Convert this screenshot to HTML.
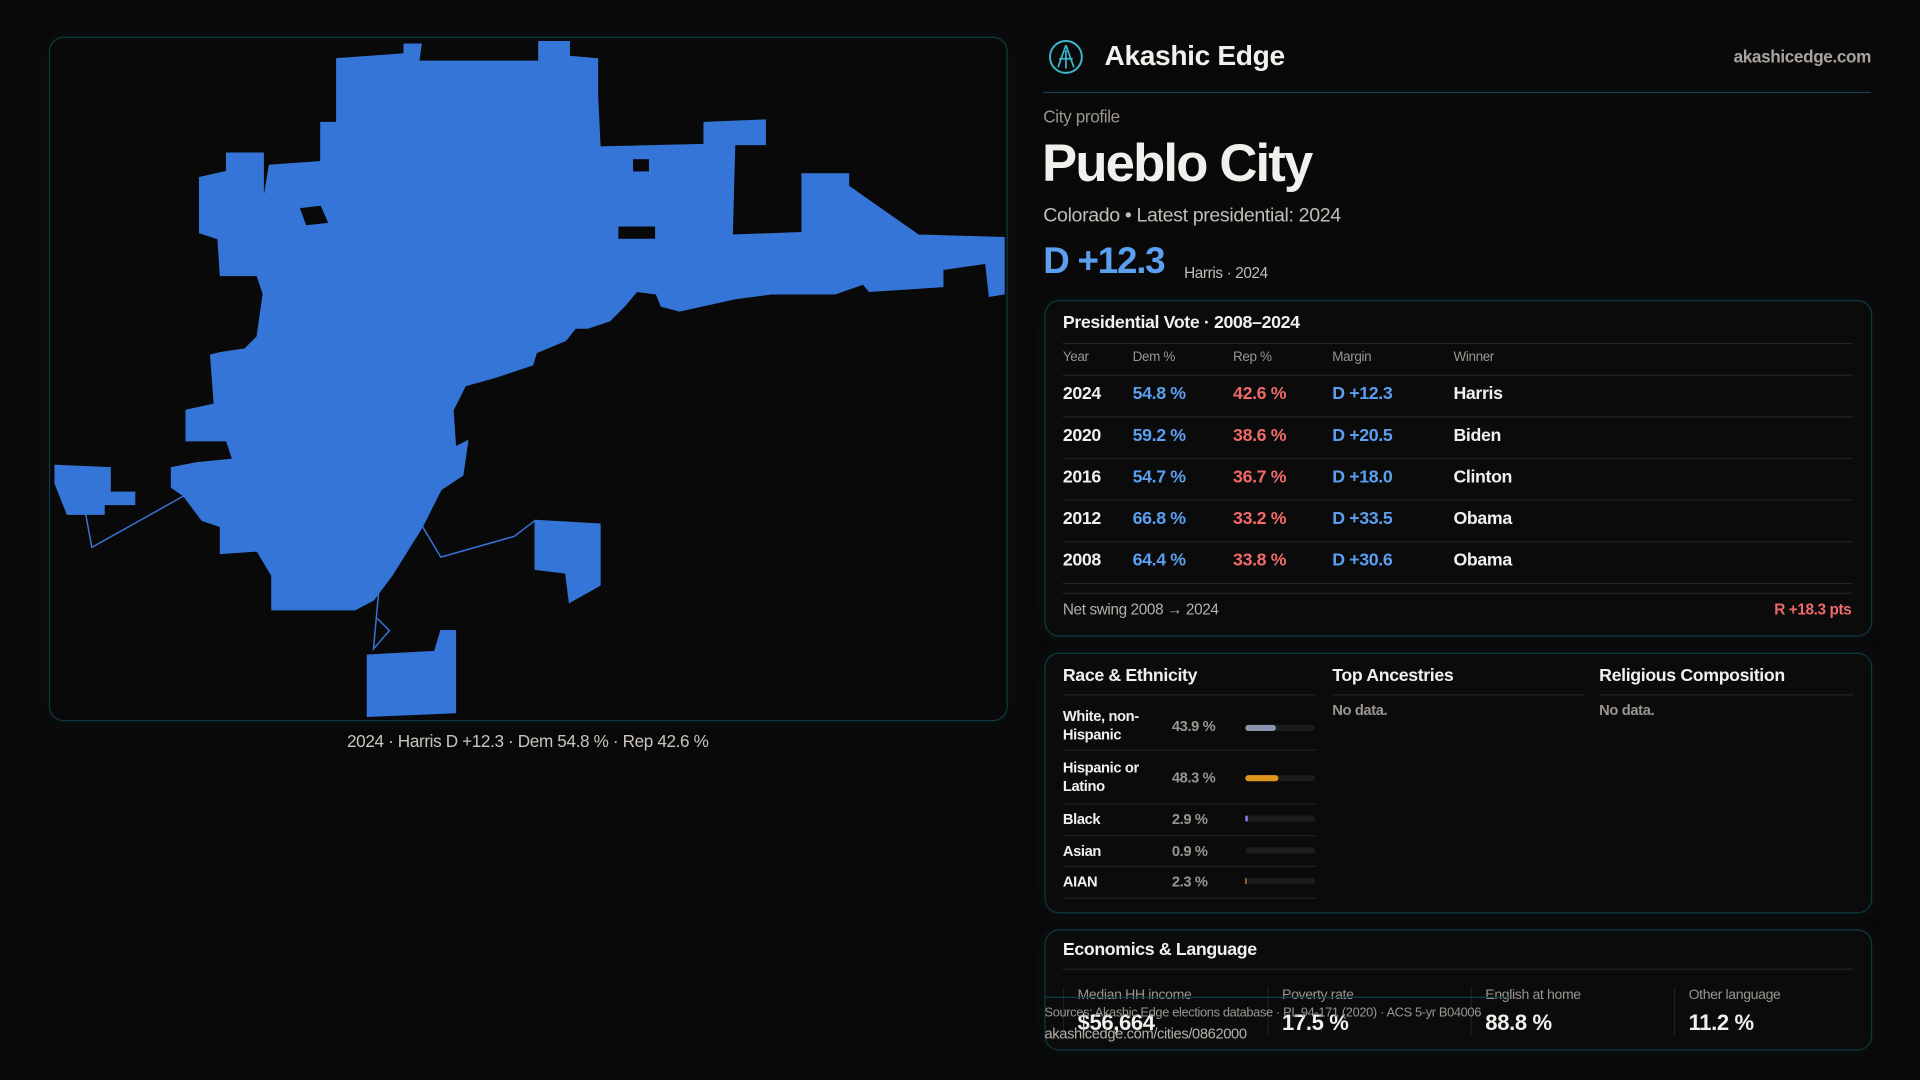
<!DOCTYPE html>
<html><head><meta charset="utf-8"><style>
*{margin:0;padding:0;box-sizing:border-box}
html,body{width:1920px;height:1080px;background:#0a0909;overflow:hidden;font-family:"Liberation Sans",sans-serif;color:#f2f0ec}
#w{position:absolute;left:0;top:0;width:1568px;height:882px;transform:scale(1.22449);transform-origin:0 0;letter-spacing:-0.3px}
.a{position:absolute;white-space:nowrap}
.card{position:absolute;border:1px solid #0f3a42;border-radius:12px;background:#0b0b0c;box-shadow:0 0 14px rgba(20,80,90,.15)}
.g{color:#9a958f}
.b{color:#5b9ff0}.r{color:#f06a6a}
.hl{position:absolute;height:1px;background:#232325}
.bar{position:absolute;height:5px;border-radius:3px;background:#1c1c1f;width:57px;left:1017px}
.bar i{position:absolute;left:0;top:0;height:5px;border-radius:3px}
</style></head><body><div id="w">
<div class="card" style="left:40px;top:30px;width:783px;height:559px;background:#0a0909"></div>
<svg class="a" style="left:0;top:0" width="830" height="600" viewBox="0 0 830 600">
<g fill="#3575d8" stroke="#3575d8" stroke-width="1">
<polygon points="275,48 330,44 330,36 344,36 342,50 440,50 440,34 465,34 465,46 488,48 488,78 490,120 575,118 575,100 625,98 625,118 600,118 598,192 655,190 655,142 693,142 693,152 750,192 820,194 820,240 808,242 805,215 770,220 770,234 710,238 705,232 682,240 630,240 600,244 555,254 540,250 536,240 520,238 510,250 498,262 480,268 470,268 462,278 438,288 435,298 405,308 380,315 370,335 372,365 382,360 378,388 360,400 345,430 320,470 305,490 290,498 222,498 222,470 210,450 180,452 180,430 165,425 150,405 140,398 140,382 160,378 190,375 185,360 152,360 152,335 175,330 172,290 180,288 200,285 210,275 215,240 210,225 180,225 178,195 163,190 163,145 185,140 185,125 215,125 215,165 220,135 262,132 265,165 275,175 262,180 262,100 275,100"/>
<polygon points="45,380 90,382 90,402 110,402 110,412 85,412 85,420 55,420 45,395"/>
<polygon points="300,535 355,532 360,515 372,515 372,582 300,585"/>
<polygon points="437,425 490,428 490,478 465,492 462,468 437,465"/>
<polygon points="540,200 600,198 600,222 540,222"/>
</g>
<g fill="#0a0909">
<polygon points="517,130 530,130 530,140 517,140"/>
<polygon points="505,185 535,185 535,195 505,195"/>
<polygon points="245,170 262,168 268,182 250,184"/>
</g>
<g fill="none" stroke="#3575d8" stroke-width="1.2">
<polyline points="150,405 75,447 70,420"/>
<polyline points="345,430 360,455 420,438 437,425"/>
<polyline points="310,475 305,530 318,515 308,505"/>
</g>
</svg>
<div class="a" style="left:0;width:862px;top:597px;text-align:center;font-size:14px;color:#c9c4bd">2024 · Harris D +12.3 · Dem 54.8 % · Rep 42.6 %</div>

<svg class="a" style="left:856px;top:32px" width="29" height="29" viewBox="0 0 29 29"><circle cx="14.5" cy="14.5" r="13" fill="none" stroke="#3bb8c8" stroke-width="1.6"/><path d="M14.5 5 L8 23 M14.5 5 L21 23 M9 16 L20 16 M14.5 9 L14.5 24" stroke="#3bb8c8" stroke-width="1.4" fill="none"/></svg>
<div class="a" style="left:902px;top:32px;font-size:23px;font-weight:bold">Akashic Edge</div>
<div class="a g" style="right:40px;top:38px;font-size:14px;font-weight:bold;color:#a8a39d">akashicedge.com</div>
<div class="a" style="left:852px;top:75px;width:676px;height:1px;background:#10434c"></div>
<div class="a g" style="left:852px;top:87px;font-size:14px">City profile</div>
<div class="a" style="left:851px;top:110px;font-size:43px;font-weight:bold;letter-spacing:-1.5px">Pueblo City</div>
<div class="a" style="left:852px;top:168px;font-size:16px;color:#c2bdb6">Colorado • Latest presidential: 2024</div>
<div class="a b" style="left:852px;top:197px;font-size:30px;font-weight:bold;letter-spacing:-1px">D +12.3</div>
<div class="a" style="left:967px;top:216px;font-size:12.5px;color:#c2bdb6">Harris · 2024</div>

<div class="card" style="left:853px;top:245px;width:676px;height:275px"></div>
<div class="a" style="left:868px;top:256px;font-size:14.5px;font-weight:bold">Presidential Vote · 2008–2024</div>
<div class="hl" style="left:868px;top:280px;width:645px"></div>
<div class="a g" style="left:868px;top:286px;font-size:11px">Year</div>
<div class="a g" style="left:925px;top:286px;font-size:11px">Dem %</div>
<div class="a g" style="left:1007px;top:286px;font-size:11px">Rep %</div>
<div class="a g" style="left:1088px;top:286px;font-size:11px">Margin</div>
<div class="a g" style="left:1187px;top:286px;font-size:11px">Winner</div>
<div class="hl" style="left:868px;top:306px;width:645px"></div>
<div style="font-size:14.5px;font-weight:bold">
<div class="a" style="left:868px;top:314px">2024</div><div class="a b" style="left:925px;top:314px">54.8 %</div><div class="a r" style="left:1007px;top:314px">42.6 %</div><div class="a b" style="left:1088px;top:314px">D +12.3</div><div class="a" style="left:1187px;top:314px">Harris</div>
<div class="hl" style="left:868px;top:340px;width:645px"></div>
<div class="a" style="left:868px;top:348px">2020</div><div class="a b" style="left:925px;top:348px">59.2 %</div><div class="a r" style="left:1007px;top:348px">38.6 %</div><div class="a b" style="left:1088px;top:348px">D +20.5</div><div class="a" style="left:1187px;top:348px">Biden</div>
<div class="hl" style="left:868px;top:374px;width:645px"></div>
<div class="a" style="left:868px;top:382px">2016</div><div class="a b" style="left:925px;top:382px">54.7 %</div><div class="a r" style="left:1007px;top:382px">36.7 %</div><div class="a b" style="left:1088px;top:382px">D +18.0</div><div class="a" style="left:1187px;top:382px">Clinton</div>
<div class="hl" style="left:868px;top:408px;width:645px"></div>
<div class="a" style="left:868px;top:416px">2012</div><div class="a b" style="left:925px;top:416px">66.8 %</div><div class="a r" style="left:1007px;top:416px">33.2 %</div><div class="a b" style="left:1088px;top:416px">D +33.5</div><div class="a" style="left:1187px;top:416px">Obama</div>
<div class="hl" style="left:868px;top:442px;width:645px"></div>
<div class="a" style="left:868px;top:450px">2008</div><div class="a b" style="left:925px;top:450px">64.4 %</div><div class="a r" style="left:1007px;top:450px">33.8 %</div><div class="a b" style="left:1088px;top:450px">D +30.6</div><div class="a" style="left:1187px;top:450px">Obama</div>
</div>
<div class="hl" style="left:868px;top:476px;width:645px"></div>
<div class="hl" style="left:868px;top:484px;width:645px"></div>
<div class="a" style="left:868px;top:491px;font-size:12.5px;color:#b5b0a9">Net swing 2008 → 2024</div>
<div class="a r" style="right:56px;top:491px;font-size:12.5px;font-weight:bold">R +18.3 pts</div>

<div class="card" style="left:853px;top:533px;width:676px;height:213px"></div>
<div class="a" style="left:868px;top:544px;font-size:14.5px;font-weight:bold">Race &amp; Ethnicity</div>
<div class="a" style="left:1088px;top:544px;font-size:14.5px;font-weight:bold">Top Ancestries</div>
<div class="a" style="left:1306px;top:544px;font-size:14.5px;font-weight:bold">Religious Composition</div>
<div class="hl" style="left:868px;top:567px;width:206px"></div>
<div class="hl" style="left:1088px;top:567px;width:206px"></div>
<div class="hl" style="left:1306px;top:567px;width:208px"></div>
<div class="a g" style="left:1088px;top:573px;font-size:12px;font-weight:bold">No data.</div>
<div class="a g" style="left:1306px;top:573px;font-size:12px;font-weight:bold">No data.</div>
<div style="font-size:12px;font-weight:bold">
<div class="a" style="left:868px;top:578px;line-height:15px">White, non-<br>Hispanic</div><div class="a g" style="left:957px;top:586px">43.9 %</div>
<div class="bar" style="top:592px"><i style="width:25px;background:#8a96ad"></i></div>
<div class="hl" style="left:868px;top:612px;width:206px"></div>
<div class="a" style="left:868px;top:620px;line-height:15px">Hispanic or<br>Latino</div><div class="a g" style="left:957px;top:628px">48.3 %</div>
<div class="bar" style="top:633px"><i style="width:27px;background:#e0961a"></i></div>
<div class="hl" style="left:868px;top:656px;width:206px"></div>
<div class="a" style="left:868px;top:662px">Black</div><div class="a g" style="left:957px;top:662px">2.9 %</div>
<div class="bar" style="top:666px"><i style="width:2px;background:#9a7af0"></i></div>
<div class="hl" style="left:868px;top:682px;width:206px"></div>
<div class="a" style="left:868px;top:688px">Asian</div><div class="a g" style="left:957px;top:688px">0.9 %</div>
<div class="bar" style="top:692px"></div>
<div class="hl" style="left:868px;top:707px;width:206px"></div>
<div class="a" style="left:868px;top:713px">AIAN</div><div class="a g" style="left:957px;top:713px">2.3 %</div>
<div class="bar" style="top:717px"><i style="width:1px;background:#e08a3a"></i></div>
<div class="hl" style="left:868px;top:733px;width:206px"></div>
</div>

<div class="card" style="left:853px;top:759px;width:676px;height:99px"></div>
<div class="a" style="left:868px;top:768px;font-size:14.5px;font-weight:bold">Economics &amp; Language</div>
<div class="hl" style="left:868px;top:791px;width:645px"></div>
<div class="a" style="left:868px;top:806px;width:1px;height:40px;background:#1f1f22"></div>
<div class="a" style="left:1035px;top:806px;width:1px;height:40px;background:#1f1f22"></div>
<div class="a" style="left:1201px;top:806px;width:1px;height:40px;background:#1f1f22"></div>
<div class="a" style="left:1367px;top:806px;width:1px;height:40px;background:#1f1f22"></div>
<div class="a g" style="left:880px;top:807px;font-size:11.5px">Median HH income</div>
<div class="a g" style="left:1047px;top:807px;font-size:11.5px">Poverty rate</div>
<div class="a g" style="left:1213px;top:807px;font-size:11.5px">English at home</div>
<div class="a g" style="left:1379px;top:807px;font-size:11.5px">Other language</div>
<div class="a" style="left:880px;top:825px;font-size:18px;font-weight:bold">$56,664</div>
<div class="a" style="left:1047px;top:825px;font-size:18px;font-weight:bold">17.5 %</div>
<div class="a" style="left:1213px;top:825px;font-size:18px;font-weight:bold">88.8 %</div>
<div class="a" style="left:1379px;top:825px;font-size:18px;font-weight:bold">11.2 %</div>
<div class="a" style="left:853px;top:814px;width:380px;height:1px;background:#10434c"></div>
<div class="a" style="left:853px;top:821px;font-size:10.5px;color:#9a958f">Sources: Akashic Edge elections database · PL 94-171 (2020) · ACS 5-yr B04006</div>
<div class="a" style="left:853px;top:837px;font-size:12px;color:#b5b0a9">akashicedge.com/cities/0862000</div>
</div></body></html>
